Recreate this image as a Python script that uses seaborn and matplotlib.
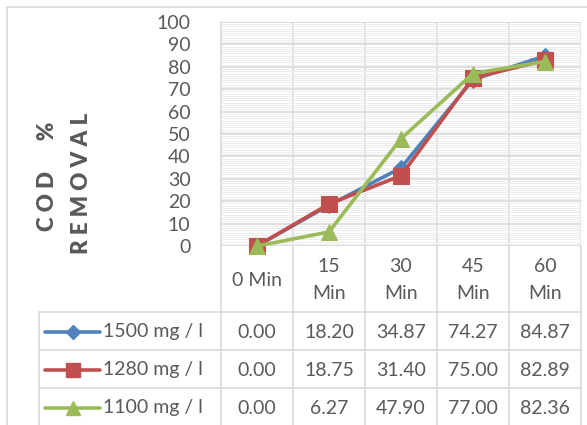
import numpy as np
import pandas as pd
import matplotlib
matplotlib.use('Agg')
import matplotlib.pyplot as plt
import seaborn as sns
from matplotlib.ticker import MultipleLocator


# =========================
# Data
# =========================

times = ['0 Min', '15\nMin', '30\nMin', '45\nMin', '60\nMin']
series_names = ['1500 mg / l', '1280 mg / l', '1100 mg / l']

cod_1500 = [0.00, 18.20, 34.87, 74.27, 84.87]
cod_1280 = [0.00, 18.75, 31.40, 75.00, 82.89]
cod_1100 = [0.00, 6.27, 47.90, 77.00, 82.36]

colors = ['#4F81BD', '#C0504D', '#9BBB59']
markers = ['D', 's', '^']
msizes = [8, 12, 12]

values = [cod_1500, cod_1280, cod_1100]

df = pd.DataFrame({
    'x': np.tile(np.arange(len(times)), 3),
    'cod': np.concatenate(values),
    'series': np.repeat(series_names, len(times)),
})


# =========================
# Figure
# =========================

sns.set_style('white')
plt.rcParams['font.family'] = ['Lato', 'DejaVu Sans']

W, H = 587, 425
fig = plt.figure(figsize=(W / 100, H / 100), dpi=100)
fig.patch.set_facecolor('white')

text_col = '#595959'
grid_col = '#d9d9d9'

# pixel helper axes for border / table
ax_t = fig.add_axes([0, 0, 1, 1], zorder=0)
ax_t.set_xlim(0, W)
ax_t.set_ylim(H, 0)
ax_t.axis('off')

# plot area
x0, x1 = 221, 581
y0, y1 = 22, 246
ax = fig.add_axes([x0 / W, 1 - y1 / H, (x1 - x0) / W, (y1 - y0) / H], zorder=2)
ax.patch.set_alpha(0)

for name, col, mk, ms in zip(series_names, colors, markers, msizes):
    sub = df[df['series'] == name]
    sns.lineplot(
        data=sub, x='x', y='cod',
        color=col, marker=mk, markersize=ms,
        markeredgecolor=col, linewidth=2.6,
        ax=ax, legend=False, zorder=3,
        clip_on=False
    )

ax.set_xlim(-0.5, len(times) - 0.5)
ax.set_ylim(0, 100)
ax.yaxis.set_major_locator(MultipleLocator(10))
ax.yaxis.set_minor_locator(MultipleLocator(1))
ax.set_xticks(np.arange(len(times)) + 0.5, minor=False)
ax.grid(True, which='major', axis='y', color=grid_col, linewidth=1.2, zorder=0)
ax.grid(True, which='minor', axis='y', color='#ededed', linewidth=0.8, zorder=0)
ax.grid(True, which='major', axis='x', color=grid_col, linewidth=1.2, zorder=0)
ax.set_xticklabels([])
ax.tick_params(axis='x', length=0)
ax.tick_params(axis='y', length=0, labelsize=14, labelcolor=text_col, pad=22)
ax.set_xlabel('')
ax.set_ylabel('')
for s in ['top', 'right', 'bottom']:
    ax.spines[s].set_visible(False)
ax.spines['left'].set_color(grid_col)
ax.spines['left'].set_linewidth(1.2)
ax.axhline(100, color=grid_col, linewidth=1.2, zorder=0)

# y-axis title
fig.text(48 / W, 1 - 176 / H, 'C O D      %', rotation=90, ha='center', va='center',
         fontsize=16, fontweight='heavy', color=text_col)
fig.text(81 / W, 1 - 183 / H, 'R E M O V A L', rotation=90, ha='center', va='center',
         fontsize=16, fontweight='heavy', color=text_col)

# chart area border
ax_t.plot([7, 7, W], [H, 7, 7], color=grid_col, linewidth=1.2)


# =========================
# Data table
# =========================

col_w = (x1 - x0) / len(times)
col_edges = [x0 + i * col_w for i in range(len(times) + 1)]
row_edges = [y1, 312, 350, 388, 426]
leg_left = 39

lw = 1.2
# vertical lines
for xe in col_edges:
    ax_t.plot([xe, xe], [y1, H], color=grid_col, linewidth=lw)
ax_t.plot([leg_left, leg_left], [row_edges[1], H], color=grid_col, linewidth=lw)
# horizontal lines
for ye in row_edges[1:4]:
    ax_t.plot([leg_left, x1], [ye, ye], color=grid_col, linewidth=lw)

# header
for i, t in enumerate(times):
    cx = x0 + (i + 0.5) * col_w
    ax_t.text(cx, (y1 + row_edges[1]) / 2 + 1, t, ha='center', va='center',
              fontsize=14, color=text_col, linespacing=1.65)

# rows
for r, (name, col, mk, ms, vals) in enumerate(zip(series_names, colors, markers, msizes, values)):
    cy = (row_edges[r + 1] + row_edges[r + 2]) / 2 + 1
    ax_t.plot([45, 100], [cy, cy], color=col, linewidth=2.6, solid_capstyle='round')
    ax_t.plot([73], [cy], marker=mk, color=col, markersize=ms * 0.85, markeredgecolor=col)
    ax_t.text(103, cy, name, ha='left', va='center', fontsize=14, color=text_col)
    for i, v in enumerate(vals):
        cx = x0 + (i + 0.5) * col_w
        ax_t.text(cx, cy, f'{v:.2f}', ha='center', va='center', fontsize=14, color=text_col)

plt.savefig('out.png', dpi=100)
